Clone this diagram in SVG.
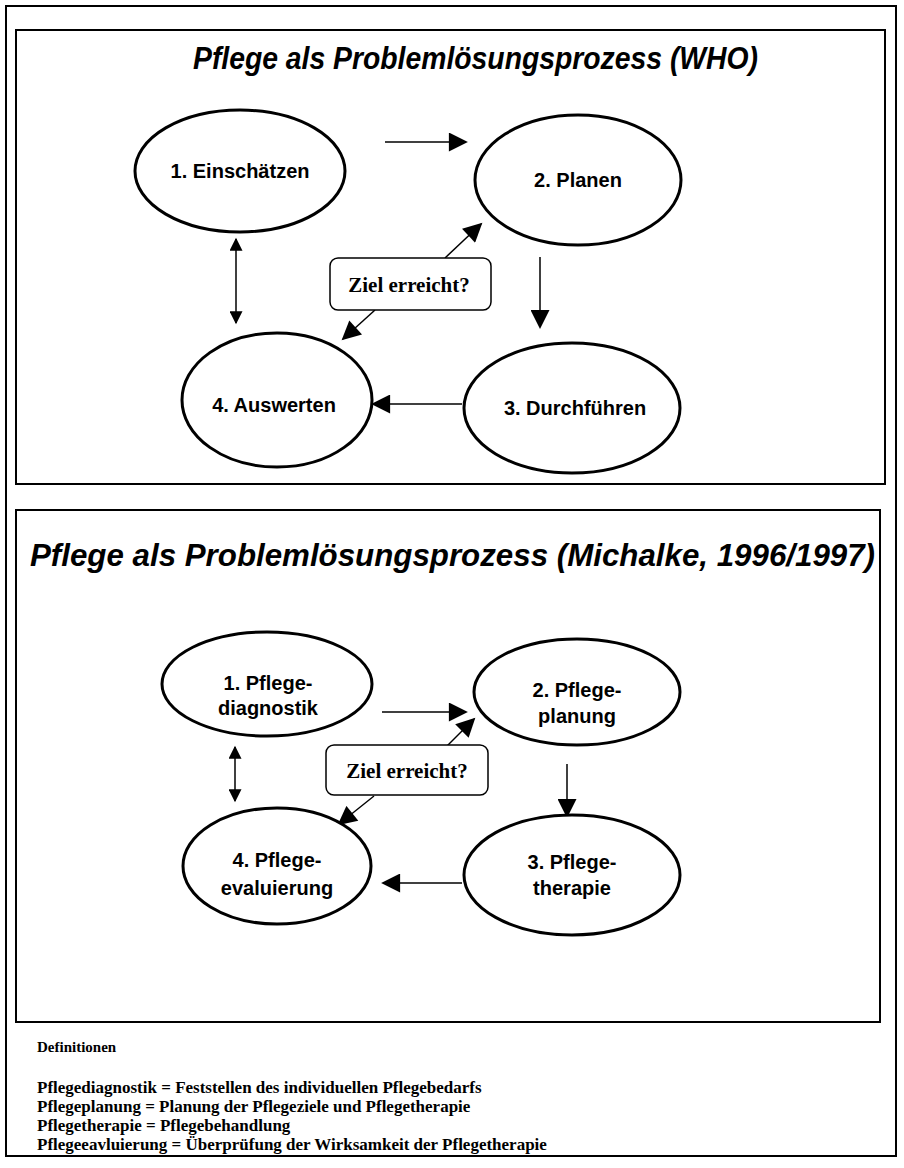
<svg xmlns="http://www.w3.org/2000/svg" width="904" height="1168" viewBox="0 0 904 1168">
<defs>
<style>
.frame{fill:none;stroke:#000;stroke-width:2}
.ell{fill:#fff;stroke:#000;stroke-width:3}
.lbl{font-family:"Liberation Sans",Arial,sans-serif;font-weight:bold;font-size:20px;text-anchor:middle;fill:#000}
.ttl{font-family:"Liberation Sans",Arial,sans-serif;font-weight:bold;font-style:italic;font-size:31px;fill:#000}
.ziel{fill:#fff;stroke:#000;stroke-width:1.5}
.zt{font-family:"Liberation Serif","Times New Roman",serif;font-weight:bold;font-size:21px;text-anchor:middle;fill:#000}
.def{font-family:"Liberation Serif","Times New Roman",serif;font-weight:bold;font-size:17px;fill:#000}
.con{fill:none;stroke:#000;stroke-width:1.5}
</style>
<marker id="ahb" viewBox="0 0 10 10" refX="9" refY="5" markerWidth="21" markerHeight="19" markerUnits="userSpaceOnUse" orient="auto-start-reverse">
<path d="M0,0 L10,5 L0,10 z" fill="#000"/>
</marker>
<marker id="ahs" viewBox="0 0 10 10" refX="9" refY="5" markerWidth="14" markerHeight="13" markerUnits="userSpaceOnUse" orient="auto-start-reverse">
<path d="M0,0 L10,5 L0,10 z" fill="#000"/>
</marker>
</defs>
<rect width="904" height="1168" fill="#fff"/>
<rect class="frame" x="6" y="6" width="890" height="1150"/>
<g id="panel-who">
<rect class="frame" x="16" y="30" width="869" height="454"/>
<text class="ttl" x="193" y="69" textLength="565" lengthAdjust="spacingAndGlyphs">Pflege als Problemlösungsprozess (WHO)</text>
</g>
<g id="panel-michalke">
<rect class="frame" x="16" y="510" width="864" height="512"/>
<text class="ttl" x="30" y="566" textLength="845" lengthAdjust="spacingAndGlyphs">Pflege als Problemlösungsprozess (Michalke, 1996/1997)</text>
</g>
<g id="connectors">
<line class="con" x1="385" y1="142" x2="466" y2="142" marker-end="url(#ahb)"/>
<line class="con" x1="540" y1="257" x2="540" y2="327" marker-end="url(#ahb)"/>
<line class="con" x1="462" y1="404" x2="373" y2="404" marker-end="url(#ahb)"/>
<line class="con" x1="236" y1="239" x2="236" y2="323" marker-start="url(#ahs)" marker-end="url(#ahs)"/>
<line class="con" x1="445" y1="258" x2="481" y2="224" marker-end="url(#ahb)"/>
<line class="con" x1="375" y1="310" x2="343" y2="339" marker-end="url(#ahb)"/>
<line class="con" x1="382" y1="712" x2="466" y2="712" marker-end="url(#ahb)"/>
<line class="con" x1="567" y1="764" x2="567" y2="816" marker-end="url(#ahb)"/>
<line class="con" x1="462" y1="883" x2="383" y2="883" marker-end="url(#ahb)"/>
<line class="con" x1="235" y1="747" x2="235" y2="801" marker-start="url(#ahs)" marker-end="url(#ahs)"/>
<line class="con" x1="445" y1="748" x2="474" y2="719" marker-end="url(#ahb)"/>
<line class="con" x1="374" y1="796" x2="339" y2="824" marker-end="url(#ahb)"/>
</g>
<g id="n1-einschaetzen"><ellipse class="ell" cx="240" cy="171" rx="105" ry="61"/><text class="lbl" x="240" y="178">1. Einschätzen</text></g>
<g id="n2-planen"><ellipse class="ell" cx="578" cy="180" rx="103" ry="65"/><text class="lbl" x="578" y="187">2. Planen</text></g>
<g id="n3-durchfuehren"><ellipse class="ell" cx="572" cy="408" rx="108" ry="65"/><text class="lbl" x="575" y="415">3. Durchführen</text></g>
<g id="n4-auswerten"><ellipse class="ell" cx="277" cy="400" rx="95" ry="67"/><text class="lbl" x="274" y="412">4. Auswerten</text></g>
<g id="ziel1"><rect class="ziel" x="330" y="258" width="161" height="52" rx="8"/><text class="zt" x="409" y="292">Ziel erreicht?</text></g>
<g id="m1-pflegediagnostik"><ellipse class="ell" cx="267" cy="684" rx="105" ry="52"/><text class="lbl" x="268" y="690">1. Pflege-</text><text class="lbl" x="268" y="715">diagnostik</text></g>
<g id="m2-pflegeplanung"><ellipse class="ell" cx="577" cy="692" rx="103" ry="53"/><text class="lbl" x="577" y="697">2. Pflege-</text><text class="lbl" x="577" y="723">planung</text></g>
<g id="m3-pflegetherapie"><ellipse class="ell" cx="572" cy="875" rx="108" ry="60"/><text class="lbl" x="572" y="869">3. Pflege-</text><text class="lbl" x="572" y="895">therapie</text></g>
<g id="m4-pflegeevaluierung"><ellipse class="ell" cx="277" cy="866" rx="94" ry="58"/><text class="lbl" x="277" y="867">4. Pflege-</text><text class="lbl" x="277" y="895">evaluierung</text></g>
<g id="ziel2"><rect class="ziel" x="326" y="745" width="162" height="50" rx="8"/><text class="zt" x="407" y="778">Ziel erreicht?</text></g>
<g id="definitions">
<text class="def" x="37" y="1052" style="font-size:15px">Definitionen</text>
<text class="def" x="37" y="1093">Pflegediagnostik = Feststellen des individuellen Pflegebedarfs</text>
<text class="def" x="37" y="1112">Pflegeplanung = Planung der Pflegeziele und Pflegetherapie</text>
<text class="def" x="37" y="1131">Pflegetherapie = Pflegebehandlung</text>
<text class="def" x="37" y="1150">Pflegeeavluierung = Überprüfung der Wirksamkeit der Pflegetherapie</text>
</g>
</svg>
